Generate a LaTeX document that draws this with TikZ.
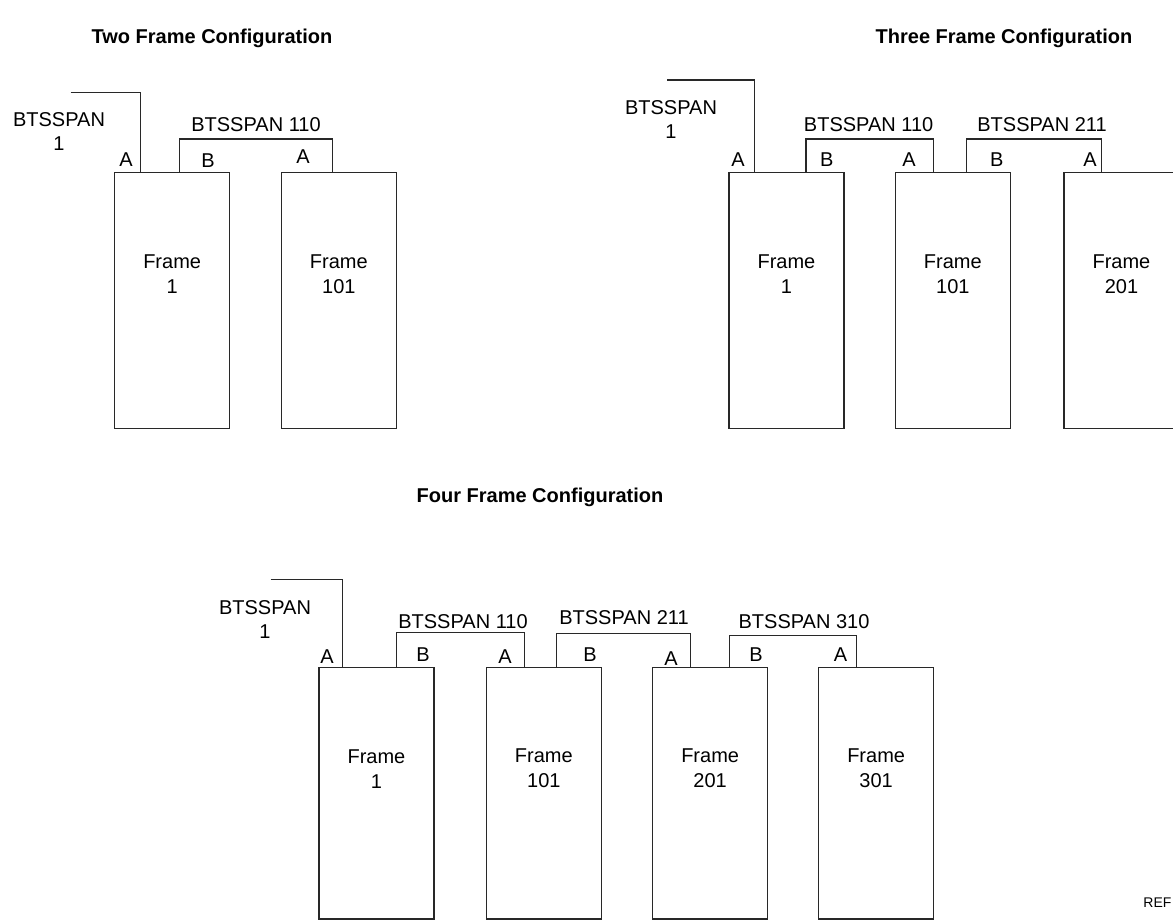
\documentclass[tikz,border=0pt]{standalone}
\usepackage{fontspec}
\setmainfont{Liberation Sans}
\usepackage{tikz}
\usetikzlibrary{positioning,calc}
\definecolor{ink}{RGB}{40,40,40}

\begin{document}
\begin{tikzpicture}[x=0.5pt, y=-0.5pt,
		frm/.style={draw=ink, line width=0.65pt, rectangle, anchor=north west,
			minimum width=57.5pt, inner sep=0pt},
		wire/.style={draw=ink, line width=0.55pt},
		lbl/.style={font=\fontsize{10}{12}\selectfont, inner sep=0pt, align=center},
		ttl/.style={font=\fontsize{10}{12}\selectfont\bfseries, inner sep=0pt},
		ftxt/.style={font=\fontsize{10}{12.5}\selectfont, inner sep=0pt, align=center}]
		\clip (0,0) rectangle (1173,922);

		% two frames
		\node[ttl] (tt) at (212,38) {Two Frame Configuration};
		\node[frm, minimum height=128pt] (a1) at (114,172) {};
		\node[frm, minimum height=128pt] (a2) at (280.7,172) {};
		\node[ftxt] (a1t) at ($(a1.north)+(0,102)$) {Frame\\1};
		\node[ftxt] (a2t) at ($(a2.north)+(0,102)$) {Frame\\101};
		\coordinate (a0) at (70.7,92.7);
		\draw[wire] (a0) -| ($(a1.north)+(-32,0)$);
		\draw[wire] ($(a1.north)+(7,0)$) -- ++(0,-33) -| ($(a2.north)+(-6.5,0)$);
		\node[lbl] (as0) at (59,132) {BTSSPAN\\1};
		\node[lbl] (as1) at (256,125) {BTSSPAN 110};
		\node[lbl] (ap1) at (126,160) {A};
		\node[lbl] (ap2) at (208,161) {B};
		\node[lbl] (ap3) at (303,157) {A};

		% three frames
		\node[ttl] (tb) at (1004,38) {Three Frame Configuration};
		\node[frm, minimum height=128pt] (b1) at (728.3,172) {};
		\node[frm, minimum height=128pt] (b2) at (894.7,172) {};
		\node[frm, minimum height=128pt] (b3) at (1063.3,172) {};
		\node[ftxt] (b1t) at ($(b1.north)+(0,102)$) {Frame\\1};
		\node[ftxt] (b2t) at ($(b2.north)+(0,102)$) {Frame\\101};
		\node[ftxt] (b3t) at ($(b3.north)+(0,102)$) {Frame\\201};
		\coordinate (b0) at (667,80);
		\draw[wire] (b0) -| ($(b1.north)+(-32,0)$);
		\draw[wire] ($(b1.north)+(19.5,0)$) -- ++(0,-33) -| ($(b2.north)+(-19.5,0)$);
		\draw[wire] ($(b2.north)+(13.5,0)$) -- ++(0,-33) -| ($(b3.north)+(-20,0)$);
		\node[lbl] (bs0) at (671,120) {BTSSPAN\\1};
		\node[lbl] (bs1) at (868.6,125) {BTSSPAN 110};
		\node[lbl] (bs2) at (1042,125) {BTSSPAN 211};
		\node[lbl] (bp1) at (738,160) {A};
		\node[lbl] (bp2) at (826.7,160) {B};
		\node[lbl] (bp3) at (909,160) {A};
		\node[lbl] (bp4) at (996.7,160) {B};
		\node[lbl] (bp5) at (1090,160) {A};

		% four frames
		\node[ttl] (tc) at (540,497) {Four Frame Configuration};
		\node[frm, minimum height=125.75pt] (c1) at (318.3,666.7) {};
		\node[frm, minimum height=125.75pt] (c2) at (485.7,666.7) {};
		\node[frm, minimum height=125.75pt] (c3) at (652,666.7) {};
		\node[frm, minimum height=125.75pt] (c4) at (818,666.7) {};
		\node[ftxt] (c1t) at ($(c1.north)+(0,102)$) {Frame\\1};
		\node[ftxt] (c2t) at ($(c2.north)+(0,102)$) {Frame\\101};
		\node[ftxt] (c3t) at ($(c3.north)+(0,102)$) {Frame\\201};
		\node[ftxt] (c4t) at ($(c4.north)+(0,102)$) {Frame\\301};
		\coordinate (c0) at (270.5,579.3);
		\draw[wire] (c0) -| ($(c1.north)+(-34,0)$);
		\draw[wire] ($(c1.north)+(20,0)$) -- ++(0,-34) -| ($(c2.north)+(-19.5,0)$);
		\draw[wire] ($(c2.north)+(13,0)$) -- ++(0,-33.5) -| ($(c3.north)+(-19.5,0)$);
		\draw[wire] ($(c3.north)+(19.5,0)$) -- ++(0,-31) -| ($(c4.north)+(-19.5,0)$);
		\node[lbl] (cs0) at (265,620) {BTSSPAN\\1};
		\node[lbl] (cs1) at (463,621.7) {BTSSPAN 110};
		\node[lbl] (cs2) at (624,618) {BTSSPAN 211};
		\node[lbl] (cs3) at (804,621.7) {BTSSPAN 310};
		\node[lbl] (cp1) at (327,657) {A};
		\node[lbl] (cp2) at (423,655) {B};
		\node[lbl] (cp3) at (505,657) {A};
		\node[lbl] (cp4) at (590,655) {B};
		\node[lbl] (cp5) at (671,659) {A};
		\node[lbl] (cp6) at (756,655) {B};
		\node[lbl] (cp7) at (840.6,655) {A};

		\node[lbl, anchor=west, font=\fontsize{7}{8}\selectfont] (rf) at (1143,903) {REF};
	\end{tikzpicture}
\end{document}
